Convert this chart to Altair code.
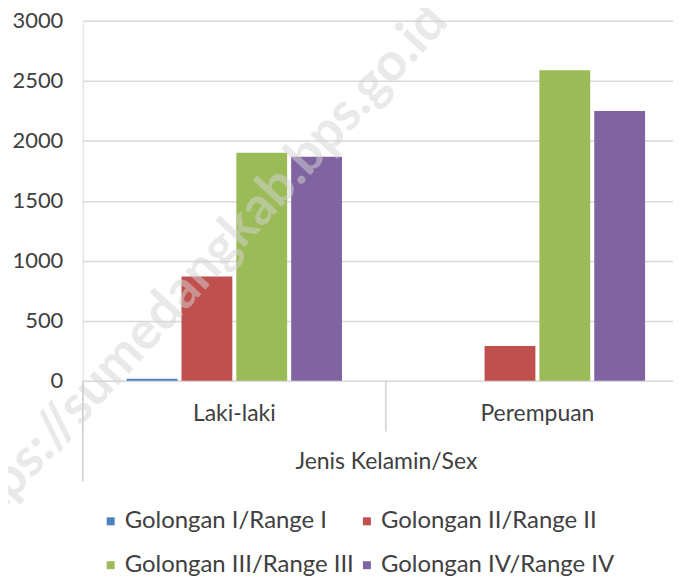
import altair as alt
import pandas as pd

sexes = ["Laki-laki", "Perempuan"]
golongan = ["Golongan I/Range I", "Golongan II/Range II", "Golongan III/Range III", "Golongan IV/Range IV"]
laki_laki = [17, 868, 1901, 1868]
perempuan = [0, 289, 2589, 2248]
colors = ["#4F81BD", "#C0504D", "#9BBB59", "#8064A2"]
y_ticks = [0, 500, 1000, 1500, 2000, 2500, 3000]
watermark = "https://sumedangkab.bps.go.id"

rows = []
for g, v in zip(golongan, laki_laki):
    rows.append({"sex": sexes[0], "gol": g, "value": v})
for g, v in zip(golongan, perempuan):
    rows.append({"sex": sexes[1], "gol": g, "value": v})
df = pd.DataFrame(rows)
div_df = pd.DataFrame({"sex": sexes})

W, H = 592, 361
FONT = "Lato"
TXT = "#404040"

xscale = alt.Scale(domain=sexes, range=[0, 608], paddingInner=0, paddingOuter=0)

bars = alt.Chart(df).mark_bar().encode(
    x=alt.X("sex:N", scale=xscale, sort=sexes,
            axis=alt.Axis(title="Jenis Kelamin/Sex", labelAngle=0, ticks=False, domain=False,
                          grid=False, labelPadding=22, titlePadding=25,
                          labelFontSize=23, titleFontSize=23, titleFontWeight="normal",
                          labelColor=TXT, titleColor=TXT, labelFont=FONT, titleFont=FONT)),
    xOffset=alt.XOffset("gol:N", sort=golongan,
                        scale=alt.Scale(domain=golongan, paddingInner=0.073, paddingOuter=0.8)),
    y=alt.Y("value:Q", scale=alt.Scale(domain=[0, 3000]),
            axis=alt.Axis(title=None, values=y_ticks, format="d", ticks=False, domain=False,
                          gridColor="#d9d9d9", gridWidth=1.5, labelPadding=20,
                          labelFontSize=22, labelColor=TXT, labelFont=FONT)),
    color=alt.Color("gol:N", sort=golongan,
                    scale=alt.Scale(domain=golongan, range=colors),
                    legend=alt.Legend(title=None, orient="none", legendX=16, legendY=490,
                                      direction="horizontal",
                                      columns=2, symbolType="square", symbolSize=64,
                                      symbolStrokeWidth=0, labelFontSize=24, labelFont=FONT,
                                      labelColor=TXT, labelOffset=2, columnPadding=-4,
                                      rowPadding=20, padding=0, labelLimit=400)),
)

dividers = alt.Chart(div_df).mark_rule(color="#d0d0d0", strokeWidth=1.5).encode(
    x=alt.X("sex:N", scale=xscale, sort=sexes, bandPosition=0),
    y=alt.value(H),
    y2=alt.value(H + 51),
)

left_line = alt.Chart(div_df).transform_filter(
    alt.datum.sex == sexes[0]
).mark_rule(color="#d0d0d0", strokeWidth=1.5).encode(
    x=alt.X("sex:N", scale=xscale, sort=sexes, bandPosition=0),
    y=alt.value(H),
    y2=alt.value(H + 101),
)

wm = alt.Chart(pd.DataFrame({"t": [watermark]})).mark_text(
    font=FONT, fontSize=53, fontWeight="bold", color="#d4d4d4", opacity=0.5,
    angle=312.5, align="center", baseline="middle"
).encode(text="t:N", x=alt.value(114), y=alt.value(256))

chart = alt.layer(bars, dividers, left_line, wm).properties(
    width=W, height=H,
    autosize=alt.AutoSizeParams(type="none"),
    padding={"left": 75, "top": 12, "right": 0, "bottom": 200},
).configure_view(stroke=None).configure(font=FONT)

chart.save("out.html", embed_options={"renderer": "svg", "actions": False})
